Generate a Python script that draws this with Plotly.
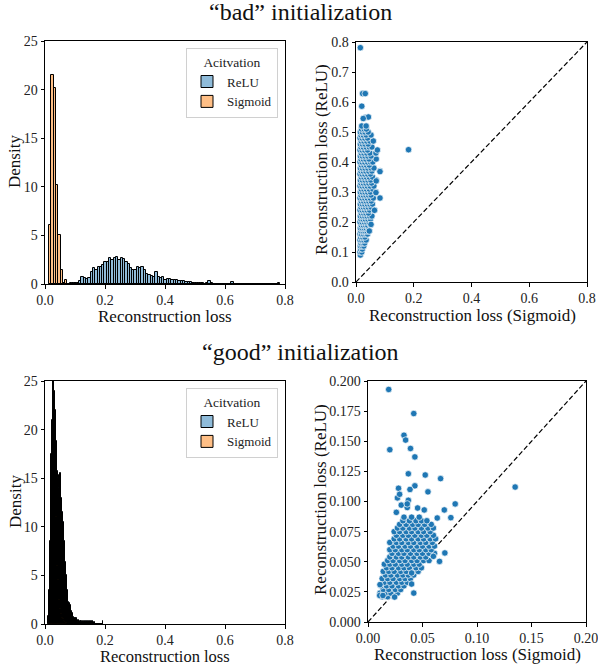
import plotly.graph_objects as go

# ---------------- data ----------------
# histogram bins ("bad" init): shared bins for ReLU / Sigmoid
bad_bin_start = 0.0133
bad_bin_width = 0.0077
sigmoid_bad_density = [6.1, 21.5, 20.2, 10.2, 5.0, 1.4, 0.15, 0.4] + [0.0] * 92
relu_bad_density = [
    0, 0, 0, 0, 0, 0, 0, 0, 0.05, 0.1,
    0.1, 0.15, 0.15, 0.3, 0.7, 0.6, 0.55, 0.65, 1.2, 1.6,
    1.45, 1.7, 1.8, 2.0, 2.3, 2.3, 2.7, 2.5, 2.7, 2.8,
    2.5, 2.65, 2.6, 2.3, 2.1, 1.6, 1.45, 1.45, 1.8, 1.6,
    1.7, 1.45, 1.0, 0.9, 0.85, 0.75, 1.25, 0.7, 0.6, 0.75,
    0.4, 0.5, 0.5, 0.45, 0.45, 0.4, 0.35, 0.35, 0.3, 0.25,
    0.2, 0.2, 0.15, 0.15, 0.1, 0.1, 0.1, 0.05, 0.1, 0.3,
    0.1, 0.05, 0.05, 0.05, 0.05, 0.05, 0, 0, 0, 0.2,
    0, 0, 0, 0, 0, 0, 0, 0, 0, 0,
    0, 0, 0, 0, 0, 0, 0, 0, 0, 0.1,
]

# histogram bins ("good" init)
good_bin_start = 0.0105
good_bin_width = 0.00183
sigmoid_good_density = [
    0.8, 1.6, 3.5, 5.5, 8.5, 13, 17.5, 21, 24, 26,
    27, 24, 22.5, 22, 15, 11, 8, 6, 4.5, 3.5,
    2.5, 2, 1.5, 1.2, 1.0, 0.8, 0.6, 0.5, 0.4, 0.3,
    0.3, 0.2, 0.2, 0.1, 0, 0, 0, 0, 0, 0,
    0, 0, 0, 0, 0, 0, 0, 0, 0, 0,
    0, 0, 0, 0, 0, 0, 0, 0, 0, 0,
    0, 0, 0, 0, 0, 0, 0, 0.2, 0, 0,
] + [0] * 30
relu_good_density = [
    0, 0, 0, 0, 0, 0.5, 1, 2, 3, 4.5,
    6, 8, 11, 14, 17, 18.8, 17, 15.7, 15, 15.3,
    14, 15, 15.5, 14, 13, 12.6, 11.5, 10.5, 9.5, 8.5,
    7.5, 6.4, 5.8, 5, 4.4, 3.5, 3, 2.3, 2.2, 1.8,
    2.0, 1.5, 1.3, 1.0, 1.1, 0.8, 0.7, 0.6, 0.5, 0.6,
    0.4, 0.6, 0.3, 0.4, 0.3, 0.2, 0.4, 0, 0.3, 0.2,
    0.3, 0, 0.2, 0.3, 0, 0.3, 0.2, 0, 0.3, 0.2,
    0, 0.3, 0, 0.2, 0.3, 0, 0, 0.3, 0, 0,
    0.3, 0, 0, 0, 0.2, 0, 0, 0, 0, 0,
    0, 0, 0, 0, 0, 0, 0, 0, 0, 0.3,
]

# scatter "bad": rows of (ReLU loss, [Sigmoid losses]) for the dense core
bad_rows = [
    (0.09, [0.015]), (0.10, [0.014, 0.02]), (0.11, [0.016, 0.022]),
    (0.12, [0.015, 0.021, 0.027]), (0.13, [0.017, 0.024, 0.03]),
    (0.14, [0.014, 0.02, 0.027, 0.035]), (0.15, [0.016, 0.023, 0.031]),
    (0.16, [0.014, 0.019, 0.026, 0.034, 0.04]),
    (0.17, [0.017, 0.024, 0.031, 0.038, 0.046]),
    (0.18, [0.015, 0.021, 0.028, 0.035, 0.043]),
    (0.19, [0.018, 0.025, 0.033, 0.04, 0.05]),
    (0.20, [0.014, 0.021, 0.029, 0.037, 0.045]),
    (0.21, [0.017, 0.024, 0.032, 0.041, 0.05]),
    (0.22, [0.015, 0.022, 0.03, 0.038, 0.047, 0.055]),
    (0.23, [0.018, 0.026, 0.034, 0.043]),
    (0.24, [0.014, 0.021, 0.029, 0.038, 0.047, 0.064]),
    (0.25, [0.017, 0.025, 0.033, 0.042, 0.052]),
    (0.26, [0.015, 0.022, 0.03, 0.039, 0.048, 0.057]),
    (0.27, [0.018, 0.026, 0.035, 0.044, 0.053]),
    (0.28, [0.014, 0.021, 0.03, 0.039, 0.049, 0.06, 0.083]),
    (0.29, [0.017, 0.025, 0.034, 0.043, 0.052]),
    (0.30, [0.015, 0.022, 0.031, 0.04, 0.05, 0.069]),
    (0.31, [0.018, 0.027, 0.036, 0.046, 0.058]),
    (0.32, [0.014, 0.021, 0.03, 0.039, 0.049, 0.062]),
    (0.33, [0.017, 0.025, 0.034, 0.044, 0.054]),
    (0.34, [0.015, 0.022, 0.031, 0.041, 0.051, 0.07]),
    (0.35, [0.018, 0.027, 0.036, 0.046, 0.057]),
    (0.36, [0.014, 0.021, 0.03, 0.04, 0.05]),
    (0.37, [0.017, 0.025, 0.034, 0.044, 0.055, 0.083]),
    (0.38, [0.015, 0.022, 0.031, 0.041, 0.052, 0.062]),
    (0.39, [0.018, 0.027, 0.036, 0.046]),
    (0.40, [0.014, 0.021, 0.03, 0.04, 0.05, 0.058]),
    (0.41, [0.017, 0.025, 0.034, 0.045, 0.07]),
    (0.42, [0.015, 0.022, 0.031, 0.041, 0.052]),
    (0.43, [0.018, 0.027, 0.037, 0.048, 0.069]),
    (0.44, [0.014, 0.021, 0.03, 0.04, 0.074]),
    (0.45, [0.017, 0.025, 0.035, 0.046, 0.055]),
    (0.46, [0.015, 0.022, 0.031, 0.042]),
    (0.47, [0.018, 0.027, 0.037, 0.048, 0.06]),
    (0.48, [0.014, 0.021, 0.03, 0.04]),
    (0.49, [0.017, 0.025, 0.035, 0.052]),
    (0.50, [0.015, 0.022, 0.031, 0.042]),
    (0.51, [0.019, 0.028, 0.036]),
    (0.52, [0.02, 0.035]),
]
bad_outliers_sigmoid = [0.015, 0.023, 0.032, 0.02, 0.033, 0.043, 0.025, 0.182, 0.064, 0.052, 0.046, 0.083, 0.069, 0.07]
bad_outliers_relu = [0.781, 0.628, 0.628, 0.586, 0.548, 0.55, 0.545, 0.441, 0.239, 0.192, 0.17, 0.368, 0.298, 0.337]

# scatter "good": rows of (ReLU loss, [Sigmoid losses]) for the dense core
good_rows = [
    (0.021, [0.013, 0.018, 0.024]),
    (0.024, [0.011, 0.016, 0.021, 0.027]),
    (0.027, [0.014, 0.019, 0.025, 0.03]),
    (0.030, [0.012, 0.017, 0.022, 0.028, 0.033]),
    (0.033, [0.015, 0.02, 0.026, 0.031, 0.036]),
    (0.036, [0.013, 0.018, 0.023, 0.029, 0.034, 0.039]),
    (0.039, [0.016, 0.021, 0.027, 0.032, 0.037, 0.042]),
    (0.042, [0.014, 0.019, 0.024, 0.03, 0.035, 0.041, 0.046]),
    (0.045, [0.017, 0.022, 0.028, 0.033, 0.038, 0.044, 0.049]),
    (0.048, [0.015, 0.02, 0.025, 0.031, 0.036, 0.042, 0.047]),
    (0.051, [0.018, 0.023, 0.029, 0.034, 0.04, 0.045, 0.051, 0.056]),
    (0.054, [0.02, 0.026, 0.031, 0.037, 0.042, 0.048, 0.053]),
    (0.057, [0.022, 0.028, 0.033, 0.039, 0.045, 0.05, 0.056, 0.061]),
    (0.060, [0.02, 0.025, 0.031, 0.036, 0.042, 0.047, 0.053, 0.058]),
    (0.063, [0.023, 0.028, 0.034, 0.039, 0.045, 0.05, 0.056, 0.061]),
    (0.066, [0.02, 0.026, 0.031, 0.037, 0.042, 0.048, 0.053, 0.059]),
    (0.069, [0.024, 0.029, 0.035, 0.04, 0.046, 0.051, 0.057, 0.062]),
    (0.072, [0.026, 0.032, 0.037, 0.043, 0.049, 0.054, 0.06]),
    (0.075, [0.024, 0.029, 0.035, 0.04, 0.046, 0.051, 0.057]),
    (0.078, [0.027, 0.032, 0.038, 0.043, 0.049, 0.055, 0.06]),
    (0.081, [0.029, 0.035, 0.041, 0.046, 0.052, 0.058]),
    (0.084, [0.032, 0.038, 0.044, 0.049, 0.054]),
    (0.087, [0.033, 0.04, 0.047]),
]
good_outliers_sigmoid = [0.019, 0.042, 0.033, 0.0345, 0.020, 0.039, 0.043, 0.037, 0.0525, 0.0666,
                         0.043, 0.028, 0.0385, 0.055, 0.135, 0.027, 0.029, 0.037, 0.0305, 0.036,
                         0.036, 0.0455, 0.0516, 0.07, 0.080, 0.026, 0.076, 0.0635, 0.0705, 0.0656,
                         0.06, 0.042, 0.040, 0.040, 0.0244, 0.0107, 0.0137, 0.011]
good_outliers_relu = [0.193, 0.173, 0.155, 0.151, 0.143, 0.144, 0.137, 0.123, 0.122, 0.119,
                      0.113, 0.111, 0.110, 0.108, 0.112, 0.103, 0.106, 0.101, 0.097, 0.095,
                      0.098, 0.0946, 0.093, 0.093, 0.098, 0.091, 0.0866, 0.0863, 0.0573, 0.0503,
                      0.0545, 0.024, 0.0315, 0.0407, 0.0207, 0.022, 0.022, 0.031]

bad_limits = [0.0, 0.8]
good_limits = [0.0, 0.2]

hist_xticks = [0, 0.2, 0.4, 0.6, 0.8]
hist_yticks = [0, 5, 10, 15, 20, 25]
bad_ticks = [0, 0.1, 0.2, 0.3, 0.4, 0.5, 0.6, 0.7, 0.8]
good_xticks = [0, 0.05, 0.1, 0.15, 0.2]
good_yticks = [0, 0.025, 0.05, 0.075, 0.1, 0.125, 0.15, 0.175, 0.2]

# ---------------- figure ----------------
BLUE = "#1f77b4"
BLUE_FILL = "rgba(31,119,180,0.5)"
ORANGE_FILL = "rgba(255,127,14,0.5)"
FONT = "Liberation Serif"

def centers(start, width, n):
    return [start + width * (i + 0.5) for i in range(n)]

def expand(rows, ox, oy):
    xs, ys = [], []
    for y, row in rows:
        for x in row:
            xs.append(x)
            ys.append(y)
    return xs + list(ox), ys + list(oy)

fig = go.Figure()

for (relu_d, sig_d, start, width, xa, ya, leg) in [
    (relu_bad_density, sigmoid_bad_density, bad_bin_start, bad_bin_width, "x", "y", "legend"),
    (relu_good_density, sigmoid_good_density, good_bin_start, good_bin_width, "x3", "y3", "legend2"),
]:
    c = centers(start, width, len(relu_d))
    fig.add_trace(go.Bar(x=c, y=relu_d, width=width, name="ReLU",
                         marker=dict(color=BLUE_FILL, line=dict(color="black", width=1)),
                         xaxis=xa, yaxis=ya, legend=leg))
    c2 = centers(start, width, len(sig_d))
    fig.add_trace(go.Bar(x=c2, y=sig_d, width=width, name="Sigmoid",
                         marker=dict(color=ORANGE_FILL, line=dict(color="black", width=1)),
                         xaxis=xa, yaxis=ya, legend=leg))

bx, by = expand(bad_rows, bad_outliers_sigmoid, bad_outliers_relu)
gx, gy = expand(good_rows, good_outliers_sigmoid, good_outliers_relu)

for (xs, ys, lim, xa, ya) in [(bx, by, bad_limits, "x2", "y2"), (gx, gy, good_limits, "x4", "y4")]:
    fig.add_trace(go.Scatter(x=lim, y=lim, mode="lines",
                             line=dict(color="black", width=1.2, dash="5px,2.5px"),
                             showlegend=False, xaxis=xa, yaxis=ya))
    fig.add_trace(go.Scatter(x=xs, y=ys, mode="markers", showlegend=False,
                             marker=dict(color=BLUE, size=6.5, line=dict(color="white", width=0.7)),
                             xaxis=xa, yaxis=ya))

W, H = 598, 666
def px(x): return x / W
def py(y): return 1 - y / H

axis_common = dict(showline=True, mirror=True, linecolor="black", linewidth=1, ticks="outside",
                   ticklen=3.5, tickwidth=1, tickcolor="black", showgrid=False, zeroline=False,
                   automargin=False, ticklabeloverflow="allow",
                   tickfont=dict(family=FONT, size=14, color="#222"))

legend_common = dict(xanchor="right", yanchor="top",
                     bgcolor="white", bordercolor="#d0d0d0", borderwidth=1,
                     font=dict(family=FONT, size=13, color="#222"),
                     title=dict(text="Acitvation", side="top center", font=dict(family=FONT, size=13.5)),
                     tracegroupgap=0, itemwidth=30)

fig.update_layout(
    template="none",
    width=W, height=H, margin=dict(l=0, r=0, t=0, b=0, pad=0), autosize=False,
    paper_bgcolor="white", plot_bgcolor="white", barmode="overlay", bargap=0,
    font=dict(family=FONT, color="#222"),
    xaxis=dict(domain=[px(45), px(285)], range=bad_limits, tickvals=hist_xticks,
               tickformat=".1f", anchor="y", **axis_common),
    yaxis=dict(domain=[py(284), py(41)], range=[0, 25], tickvals=hist_yticks,
               anchor="x", **axis_common),
    xaxis2=dict(domain=[px(356), px(587)], range=bad_limits, tickvals=hist_xticks,
                tickformat=".1f", anchor="y2", **axis_common),
    yaxis2=dict(domain=[py(282), py(42)], range=bad_limits, tickvals=bad_ticks, tickformat=".1f",
                anchor="x2", **axis_common),
    xaxis3=dict(domain=[px(45), px(285)], range=bad_limits, tickvals=hist_xticks,
                tickformat=".1f", anchor="y3", **axis_common),
    yaxis3=dict(domain=[py(624), py(381)], range=[0, 25], tickvals=hist_yticks,
                anchor="x3", **axis_common),
    xaxis4=dict(domain=[px(368), px(586)], range=good_limits, tickvals=good_xticks,
                tickformat=".2f", anchor="y4", **axis_common),
    yaxis4=dict(domain=[py(622), py(381)], range=good_limits, tickvals=good_yticks,
                tickformat=".3f", anchor="x4", **axis_common),
    legend=dict(x=px(278), y=py(48), **legend_common),
    legend2=dict(x=px(278), y=py(388), **legend_common),
)

ann = []
def add_text(text, x, y, size, angle=0):
    ann.append(dict(text=text, x=px(x), y=py(y), xref="paper", yref="paper", showarrow=False,
                    xanchor="center", yanchor="middle", textangle=angle,
                    font=dict(family=FONT, size=size, color="#111")))

add_text("\u201cbad\u201d initialization", 300, 12, 24)
add_text("\u201cgood\u201d initialization", 300, 352, 24)
add_text("Reconstruction loss", 165, 316, 17)
add_text("Density", 15, 162, 17, -90)
add_text("Reconstruction loss (Sigmoid)", 472, 315, 17)
add_text("Reconstruction loss (ReLU)", 321, 160, 17, -90)
add_text("Reconstruction loss", 165, 656.5, 16.5)
add_text("Density", 15, 502, 17, -90)
add_text("Reconstruction loss (Sigmoid)", 477, 654, 17)
add_text("Reconstruction loss (ReLU)", 321, 500, 17, -90)
fig.update_layout(annotations=ann)

fig.write_html("out.html", config={"displayModeBar": False},
               post_script="document.body.style.margin='0';document.body.style.overflow='hidden';")
